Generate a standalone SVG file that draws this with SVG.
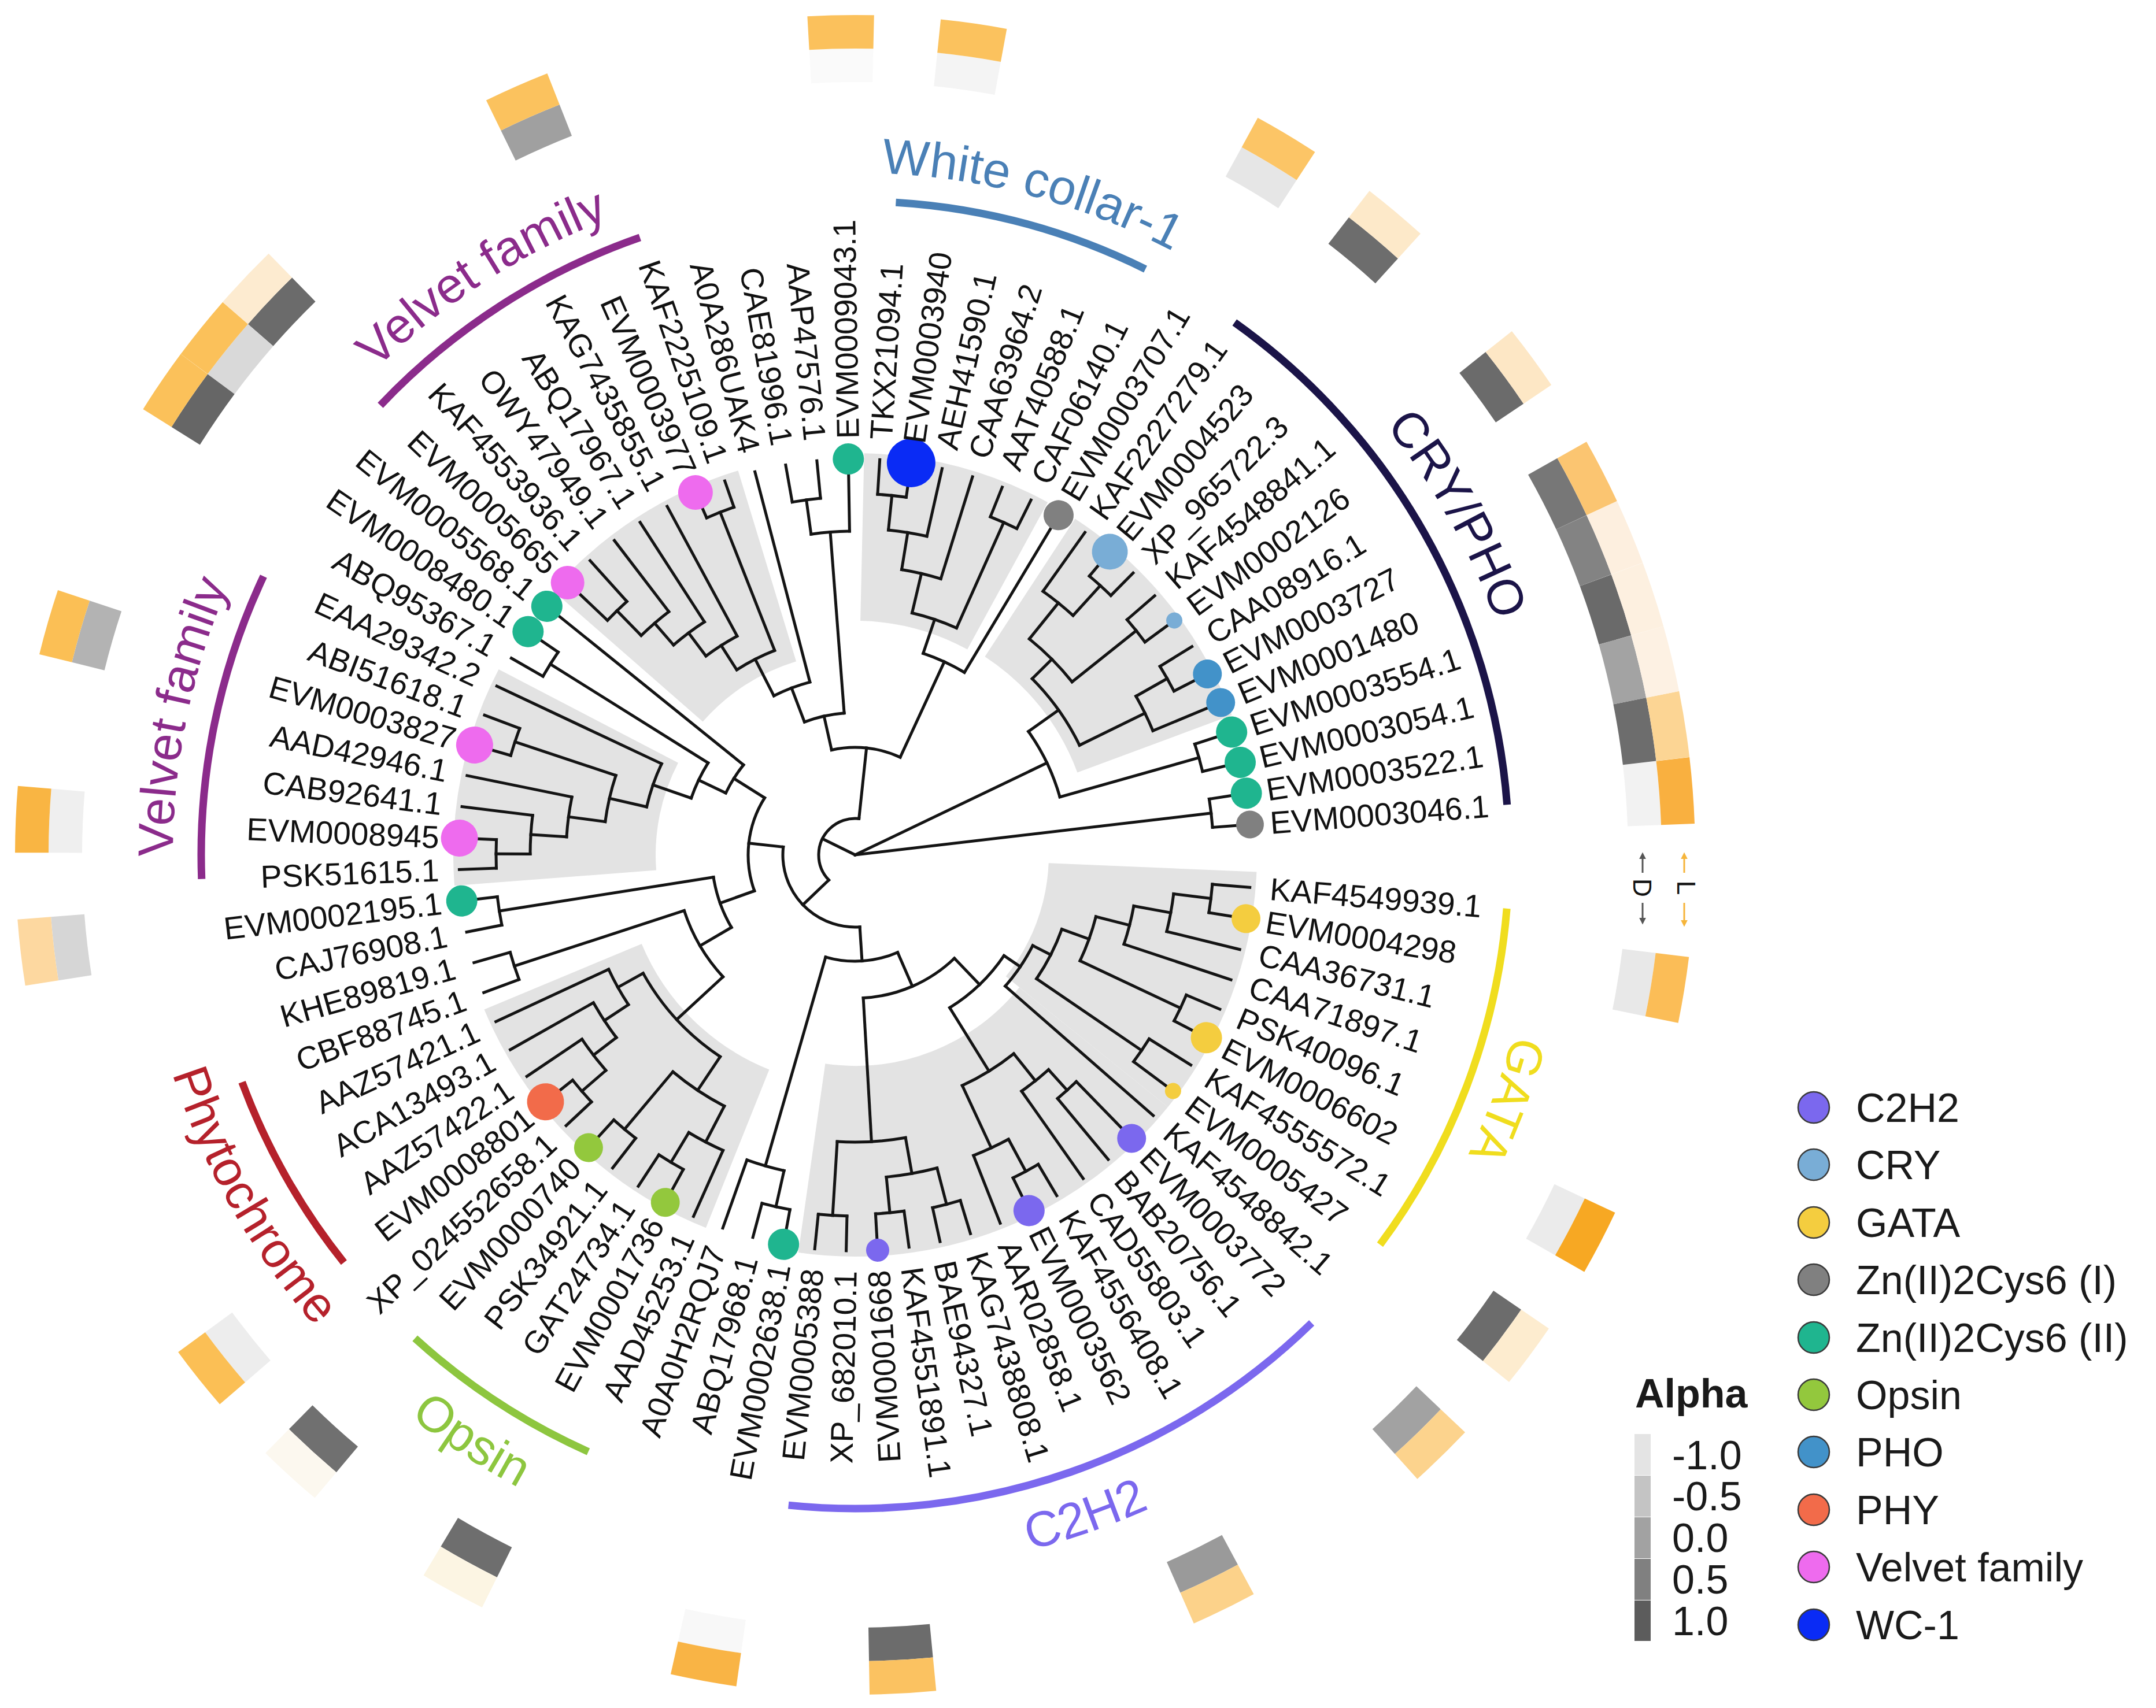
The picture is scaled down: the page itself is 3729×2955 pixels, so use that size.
<svg xmlns="http://www.w3.org/2000/svg" width="3729" height="2955" viewBox="0 0 3729 2955">
<defs>
<path id="cw" d="M1180 0A1180 1180 0 1 1-1180 0A1180 1180 0 1 1 1180 0"/>
<path id="ccw" d="M1240 0A1240 1240 0 1 0-1240 0A1240 1240 0 1 0 1240 0"/>
<path id="rd" d="M1366 0A1366 1366 0 1 1-1366 0A1366 1366 0 1 1 1366 0" pathLength="360"/>
<path id="rl" d="M1424 0A1424 1424 0 1 1-1424 0A1424 1424 0 1 1 1424 0" pathLength="360"/>
<marker id="ag" viewBox="0 0 10 10" refX="2" refY="5" markerWidth="4" markerHeight="4" orient="auto"><path d="M0 0L10 5L0 10z" fill="#555"/></marker>
<marker id="ao" viewBox="0 0 10 10" refX="2" refY="5" markerWidth="4" markerHeight="4" orient="auto"><path d="M0 0L10 5L0 10z" fill="#f6b53a"/></marker>
</defs>
<style>
text{font-family:"Liberation Sans",Arial,Helvetica,sans-serif}
.t line,.t path{stroke:#141414;stroke-width:5;fill:none;stroke-linecap:square}
.lab text{font-size:55px;fill:#111}
.lab .f{text-anchor:end}
.hl path{fill:none;stroke:#e3e3e3}
.hm{fill:none;stroke-width:58;stroke-dasharray:4.557 720}
.grp path{fill:none;stroke-width:13}
.zi{fill:#808080}.zii{fill:#1fb58f}.pho{fill:#4292c9}.cry{fill:#79add6}.wc{fill:#0a2bf5}.vel{fill:#ee6bee}.phy{fill:#f26b4a}.ops{fill:#93c83d}.c2{fill:#7b68ee}.ga{fill:#f4cd3f}
.leg circle{stroke:#3a3a3a;stroke-width:2.5}
.leg text{font-size:70px;fill:#1a1a1a}
</style>
<rect width="3729" height="2955" fill="#fff"/>
<g transform="translate(1479 1479)">
<g id="highlights" class="hl">
<path d="M552.5 0A552.5 552.5 0 1 1-552.5 0A552.5 552.5 0 1 1 552.5 0" pathLength="360" stroke-width="285" stroke-dasharray="36.46 720" transform="rotate(-56.81)"/>
<path d="M550 0A550 550 0 1 1-550 0A550 550 0 1 1 550 0" pathLength="360" stroke-width="290" stroke-dasharray="27.35 720" transform="rotate(-88.71)"/>
<path d="M522.5 0A522.5 522.5 0 1 1-522.5 0A522.5 522.5 0 1 1 522.5 0" pathLength="360" stroke-width="345" stroke-dasharray="31.9 720" transform="rotate(-138.83)"/>
<path d="M520 0A520 520 0 1 1-520 0A520 520 0 1 1 520 0" pathLength="360" stroke-width="350" stroke-dasharray="31.9 720" transform="rotate(-184.4)"/>
<path d="M547.5 0A547.5 547.5 0 1 1-547.5 0A547.5 547.5 0 1 1 547.5 0" pathLength="360" stroke-width="295" stroke-dasharray="45.57 720" transform="rotate(-248.2)"/>
<path d="M530 0A530 530 0 1 1-530 0A530 530 0 1 1 530 0" pathLength="360" stroke-width="330" stroke-dasharray="59.24 720" transform="rotate(-321.11)"/>
<path d="M515 0A515 515 0 1 1-515 0A515 515 0 1 1 515 0" pathLength="360" stroke-width="360" stroke-dasharray="36.46 720" transform="rotate(-357.57)"/>
</g>
<g id="heatmap" class="hm">
<g transform="rotate(-6.68)"><use href="#rd" stroke="#f2f2f2"/><use href="#rl" stroke="#f9b040"/></g>
<g transform="rotate(-11.24)"><use href="#rd" stroke="#6d6d6d"/><use href="#rl" stroke="#fcd594"/></g>
<g transform="rotate(-15.79)"><use href="#rd" stroke="#a3a3a3"/><use href="#rl" stroke="#fdf1e3"/></g>
<g transform="rotate(-20.35)"><use href="#rd" stroke="#6a6a6a"/><use href="#rl" stroke="#fdf0e0"/></g>
<g transform="rotate(-24.91)"><use href="#rd" stroke="#838383"/><use href="#rl" stroke="#fdefdf"/></g>
<g transform="rotate(-29.47)"><use href="#rd" stroke="#777777"/><use href="#rl" stroke="#fbc571"/></g>
<g transform="rotate(-38.58)"><use href="#rd" stroke="#6b6b6b"/><use href="#rl" stroke="#fde7c5"/></g>
<g transform="rotate(-52.25)"><use href="#rd" stroke="#6d6d6d"/><use href="#rl" stroke="#fde9c9"/></g>
<g transform="rotate(-61.36)"><use href="#rd" stroke="#e6e6e6"/><use href="#rl" stroke="#fcc566"/></g>
<g transform="rotate(-84.15)"><use href="#rd" stroke="#f4f4f4"/><use href="#rl" stroke="#fbc25e"/></g>
<g transform="rotate(-93.26)"><use href="#rd" stroke="#fafafa"/><use href="#rl" stroke="#fbc15c"/></g>
<g transform="rotate(-116.05)"><use href="#rd" stroke="#a0a0a0"/><use href="#rl" stroke="#fbc25e"/></g>
<g transform="rotate(-138.83)"><use href="#rd" stroke="#6b6b6b"/><use href="#rl" stroke="#fdebd0"/></g>
<g transform="rotate(-143.39)"><use href="#rd" stroke="#d9d9d9"/><use href="#rl" stroke="#fbc15a"/></g>
<g transform="rotate(-147.95)"><use href="#rd" stroke="#666666"/><use href="#rl" stroke="#fbc15a"/></g>
<g transform="rotate(-166.18)"><use href="#rd" stroke="#b3b3b3"/><use href="#rl" stroke="#fbbf55"/></g>
<g transform="rotate(-179.85)"><use href="#rd" stroke="#efefef"/><use href="#rl" stroke="#f9b543"/></g>
<g transform="rotate(-188.96)"><use href="#rd" stroke="#d6d6d6"/><use href="#rl" stroke="#fdd8a0"/></g>
<g transform="rotate(-220.86)"><use href="#rd" stroke="#ededed"/><use href="#rl" stroke="#fbbf55"/></g>
<g transform="rotate(-229.97)"><use href="#rd" stroke="#707070"/><use href="#rl" stroke="#fcf8ef"/></g>
<g transform="rotate(-243.64)"><use href="#rd" stroke="#6e6e6e"/><use href="#rl" stroke="#fcf5e3"/></g>
<g transform="rotate(-261.87)"><use href="#rd" stroke="#f8f8f8"/><use href="#rl" stroke="#f9b445"/></g>
<g transform="rotate(-275.54)"><use href="#rd" stroke="#6c6c6c"/><use href="#rl" stroke="#fbc261"/></g>
<g transform="rotate(-298.33)"><use href="#rd" stroke="#9a9a9a"/><use href="#rl" stroke="#fcd28a"/></g>
<g transform="rotate(-316.56)"><use href="#rd" stroke="#a2a2a2"/><use href="#rl" stroke="#fcd38d"/></g>
<g transform="rotate(-325.67)"><use href="#rd" stroke="#6c6c6c"/><use href="#rl" stroke="#fdeccf"/></g>
<g transform="rotate(-334.78)"><use href="#rd" stroke="#ebebeb"/><use href="#rl" stroke="#f7a823"/></g>
<g transform="rotate(-353.01)"><use href="#rd" stroke="#e8e8e8"/><use href="#rl" stroke="#fbbd57"/></g>
</g>
<g id="clade-strips" class="grp">
<path d="M1131 0A1131 1131 0 1 1-1131 0A1131 1131 0 1 1 1131 0" pathLength="360" stroke="#1b1448" stroke-dasharray="50.13 720" transform="rotate(-54.53)"/>
<path d="M1131 0A1131 1131 0 1 1-1131 0A1131 1131 0 1 1 1131 0" pathLength="360" stroke="#4a80b6" stroke-dasharray="22.79 720" transform="rotate(-86.43)"/>
<path d="M1131 0A1131 1131 0 1 1-1131 0A1131 1131 0 1 1 1131 0" pathLength="360" stroke="#8b2b8b" stroke-dasharray="27.34 720" transform="rotate(-136.55)"/>
<path d="M1131 0A1131 1131 0 1 1-1131 0A1131 1131 0 1 1 1131 0" pathLength="360" stroke="#8b2b8b" stroke-dasharray="27.34 720" transform="rotate(-182.12)"/>
<path d="M1131 0A1131 1131 0 1 1-1131 0A1131 1131 0 1 1 1131 0" pathLength="360" stroke="#b5212b" stroke-dasharray="18.23 720" transform="rotate(-218.58)"/>
<path d="M1131 0A1131 1131 0 1 1-1131 0A1131 1131 0 1 1 1131 0" pathLength="360" stroke="#8dc63f" stroke-dasharray="18.23 720" transform="rotate(-245.92)"/>
<path d="M1131 0A1131 1131 0 1 1-1131 0A1131 1131 0 1 1 1131 0" pathLength="360" stroke="#7b68ee" stroke-dasharray="50.13 720" transform="rotate(-314.28)"/>
<path d="M1131 0A1131 1131 0 1 1-1131 0A1131 1131 0 1 1 1131 0" pathLength="360" stroke="#f0dd1e" stroke-dasharray="31.9 720" transform="rotate(-355.29)"/>
</g>
<g id="clade-labels" font-size="86" text-anchor="middle">
<text fill="#4a80b6"><textPath href="#cw" startOffset="79.16%">White collar-1</textPath></text>
<text fill="#1b1448"><textPath href="#cw" startOffset="91.81%">CRY/PHO</textPath></text>
<text fill="#f0dd1e"><textPath href="#cw" startOffset="5.74%">GATA</textPath></text>
<text fill="#8b2b8b"><textPath href="#cw" startOffset="53.21%">Velvet family</textPath></text>
<text fill="#8b2b8b"><textPath href="#cw" startOffset="65.87%">Velvet family</textPath></text>
<text fill="#7b68ee"><textPath href="#ccw" startOffset="80.33%">C2H2</textPath></text>
<text fill="#8dc63f"><textPath href="#ccw" startOffset="65.78%">Opsin</textPath></text>
<text fill="#b5212b"><textPath href="#ccw" startOffset="58.19%">Phytochrome</textPath></text>
</g>
<g id="connectors" class="t">
<line x2="620" transform="rotate(-6.68)"/>
<line x2="368" transform="rotate(-25.62)"/>
<line x2="63" transform="rotate(-153.83)"/>
<line x1="620" x2="685" transform="rotate(-4.4)"/>
<line x1="620" x2="685" transform="rotate(-8.96)"/>
<line x1="368" x2="618" transform="rotate(-15.79)"/>
<line x1="368" x2="432" transform="rotate(-35.45)"/>
<line x1="618" x2="685" transform="rotate(-13.51)"/>
<line x1="618" x2="685" transform="rotate(-18.07)"/>
<line x1="432" x2="558" transform="rotate(-26.05)"/>
<line x1="432" x2="480" transform="rotate(-44.85)"/>
<line x1="558" x2="685" transform="rotate(-22.63)"/>
<line x1="558" x2="620" transform="rotate(-29.47)"/>
<line x1="620" x2="685" transform="rotate(-27.19)"/>
<line x1="620" x2="685" transform="rotate(-31.74)"/>
<line x1="480" x2="622" transform="rotate(-38.58)"/>
<line x1="480" x2="560" transform="rotate(-51.11)"/>
<line x1="622" x2="685" transform="rotate(-36.3)"/>
<line x1="622" x2="685" transform="rotate(-40.86)"/>
<line x1="560" x2="630" transform="rotate(-47.69)"/>
<line x1="560" x2="685" transform="rotate(-54.53)"/>
<line x1="630" x2="685" transform="rotate(-45.41)"/>
<line x1="630" x2="685" transform="rotate(-49.97)"/>
<line x1="63" x2="186" transform="rotate(-83.92)"/>
<line x1="63" x2="125" transform="rotate(-223.73)"/>
<line x1="186" x2="368" transform="rotate(-65.21)"/>
<line x1="186" x2="246" transform="rotate(-102.63)"/>
<line x1="368" x2="685" transform="rotate(-59.08)"/>
<line x1="368" x2="430" transform="rotate(-71.34)"/>
<line x1="430" x2="630" transform="rotate(-65.92)"/>
<line x1="430" x2="500" transform="rotate(-76.75)"/>
<line x1="630" x2="685" transform="rotate(-63.64)"/>
<line x1="630" x2="685" transform="rotate(-68.2)"/>
<line x1="500" x2="685" transform="rotate(-72.76)"/>
<line x1="500" x2="565" transform="rotate(-80.73)"/>
<line x1="565" x2="685" transform="rotate(-77.31)"/>
<line x1="565" x2="625" transform="rotate(-84.15)"/>
<line x1="625" x2="685" transform="rotate(-81.87)"/>
<line x1="625" x2="685" transform="rotate(-86.43)"/>
<line x1="246" x2="560" transform="rotate(-94.4)"/>
<line x1="246" x2="309" transform="rotate(-110.85)"/>
<line x1="560" x2="685" transform="rotate(-90.98)"/>
<line x1="560" x2="620" transform="rotate(-97.82)"/>
<line x1="620" x2="685" transform="rotate(-95.54)"/>
<line x1="620" x2="685" transform="rotate(-100.1)"/>
<line x1="309" x2="685" transform="rotate(-104.65)"/>
<line x1="309" x2="380" transform="rotate(-117.05)"/>
<line x1="380" x2="637" transform="rotate(-111.49)"/>
<line x1="380" x2="430" transform="rotate(-122.6)"/>
<line x1="637" x2="685" transform="rotate(-109.21)"/>
<line x1="637" x2="685" transform="rotate(-113.77)"/>
<line x1="430" x2="685" transform="rotate(-118.33)"/>
<line x1="430" x2="480" transform="rotate(-126.87)"/>
<line x1="480" x2="685" transform="rotate(-122.88)"/>
<line x1="480" x2="530" transform="rotate(-130.86)"/>
<line x1="530" x2="685" transform="rotate(-127.44)"/>
<line x1="530" x2="590" transform="rotate(-134.28)"/>
<line x1="590" x2="685" transform="rotate(-132)"/>
<line x1="590" x2="685" transform="rotate(-136.55)"/>
<line x1="125" x2="185" transform="rotate(-173.73)"/>
<line x1="125" x2="184" transform="rotate(-273.73)"/>
<line x1="185" x2="248" transform="rotate(-147.77)"/>
<line x1="185" x2="248" transform="rotate(-199.68)"/>
<line x1="248" x2="685" transform="rotate(-141.11)"/>
<line x1="248" x2="300" transform="rotate(-154.43)"/>
<line x1="300" x2="622" transform="rotate(-147.95)"/>
<line x1="300" x2="370" transform="rotate(-160.91)"/>
<line x1="622" x2="685" transform="rotate(-145.67)"/>
<line x1="622" x2="685" transform="rotate(-150.22)"/>
<line x1="370" x2="685" transform="rotate(-154.78)"/>
<line x1="370" x2="436" transform="rotate(-167.03)"/>
<line x1="436" x2="620" transform="rotate(-161.62)"/>
<line x1="436" x2="500" transform="rotate(-172.44)"/>
<line x1="620" x2="685" transform="rotate(-159.34)"/>
<line x1="620" x2="685" transform="rotate(-163.9)"/>
<line x1="500" x2="685" transform="rotate(-168.45)"/>
<line x1="500" x2="562" transform="rotate(-176.43)"/>
<line x1="562" x2="685" transform="rotate(-173.01)"/>
<line x1="562" x2="621" transform="rotate(-179.85)"/>
<line x1="621" x2="685" transform="rotate(-177.57)"/>
<line x1="621" x2="685" transform="rotate(-182.12)"/>
<line x1="248" x2="623" transform="rotate(-188.96)"/>
<line x1="248" x2="311" transform="rotate(-210.4)"/>
<line x1="623" x2="685" transform="rotate(-186.68)"/>
<line x1="623" x2="685" transform="rotate(-191.24)"/>
<line x1="311" x2="620" transform="rotate(-198.07)"/>
<line x1="311" x2="420" transform="rotate(-222.72)"/>
<line x1="620" x2="685" transform="rotate(-195.79)"/>
<line x1="620" x2="685" transform="rotate(-200.35)"/>
<line x1="420" x2="470" transform="rotate(-209.19)"/>
<line x1="420" x2="490" transform="rotate(-236.24)"/>
<line x1="470" x2="685" transform="rotate(-204.91)"/>
<line x1="470" x2="520" transform="rotate(-213.46)"/>
<line x1="520" x2="685" transform="rotate(-209.47)"/>
<line x1="520" x2="570" transform="rotate(-217.44)"/>
<line x1="570" x2="685" transform="rotate(-214.02)"/>
<line x1="570" x2="625" transform="rotate(-220.86)"/>
<line x1="625" x2="685" transform="rotate(-218.58)"/>
<line x1="625" x2="685" transform="rotate(-223.14)"/>
<line x1="490" x2="620" transform="rotate(-229.97)"/>
<line x1="490" x2="560" transform="rotate(-242.51)"/>
<line x1="620" x2="685" transform="rotate(-227.69)"/>
<line x1="620" x2="685" transform="rotate(-232.25)"/>
<line x1="560" x2="620" transform="rotate(-239.09)"/>
<line x1="560" x2="685" transform="rotate(-245.92)"/>
<line x1="620" x2="685" transform="rotate(-236.81)"/>
<line x1="620" x2="685" transform="rotate(-241.36)"/>
<line x1="184" x2="560" transform="rotate(-253.9)"/>
<line x1="184" x2="248" transform="rotate(-293.55)"/>
<line x1="560" x2="685" transform="rotate(-250.48)"/>
<line x1="560" x2="624" transform="rotate(-257.32)"/>
<line x1="624" x2="685" transform="rotate(-255.04)"/>
<line x1="624" x2="685" transform="rotate(-259.59)"/>
<line x1="248" x2="497" transform="rotate(-273.27)"/>
<line x1="248" x2="311" transform="rotate(-313.82)"/>
<line x1="497" x2="625" transform="rotate(-266.43)"/>
<line x1="497" x2="560" transform="rotate(-280.1)"/>
<line x1="625" x2="685" transform="rotate(-264.15)"/>
<line x1="625" x2="685" transform="rotate(-268.71)"/>
<line x1="560" x2="622" transform="rotate(-275.54)"/>
<line x1="560" x2="625" transform="rotate(-284.66)"/>
<line x1="622" x2="685" transform="rotate(-273.26)"/>
<line x1="622" x2="685" transform="rotate(-277.82)"/>
<line x1="625" x2="685" transform="rotate(-282.38)"/>
<line x1="625" x2="685" transform="rotate(-286.93)"/>
<line x1="311" x2="440" transform="rotate(-301.75)"/>
<line x1="311" x2="345" transform="rotate(-325.89)"/>
<line x1="440" x2="559" transform="rotate(-294.91)"/>
<line x1="440" x2="500" transform="rotate(-308.58)"/>
<line x1="559" x2="685" transform="rotate(-291.49)"/>
<line x1="559" x2="622" transform="rotate(-298.33)"/>
<line x1="622" x2="685" transform="rotate(-296.05)"/>
<line x1="622" x2="685" transform="rotate(-300.61)"/>
<line x1="500" x2="685" transform="rotate(-305.16)"/>
<line x1="500" x2="548" transform="rotate(-312)"/>
<line x1="548" x2="685" transform="rotate(-309.72)"/>
<line x1="548" x2="685" transform="rotate(-314.28)"/>
<line x1="345" x2="685" transform="rotate(-318.83)"/>
<line x1="345" x2="380" transform="rotate(-332.94)"/>
<line x1="380" x2="600" transform="rotate(-325.67)"/>
<line x1="380" x2="430" transform="rotate(-340.2)"/>
<line x1="600" x2="685" transform="rotate(-323.39)"/>
<line x1="600" x2="685" transform="rotate(-327.95)"/>
<line x1="430" x2="622" transform="rotate(-334.78)"/>
<line x1="430" x2="490" transform="rotate(-345.61)"/>
<line x1="622" x2="685" transform="rotate(-332.5)"/>
<line x1="622" x2="685" transform="rotate(-337.06)"/>
<line x1="490" x2="685" transform="rotate(-341.62)"/>
<line x1="490" x2="555" transform="rotate(-349.6)"/>
<line x1="555" x2="685" transform="rotate(-346.18)"/>
<line x1="555" x2="620" transform="rotate(-353.01)"/>
<line x1="620" x2="685" transform="rotate(-350.73)"/>
<line x1="620" x2="685" transform="rotate(-355.29)"/>
<path d="M620 0A620 620 0 1 1-620 0A620 620 0 1 1 620 0" pathLength="360" stroke-dasharray="4.56 720" transform="rotate(-8.96)"/>
<path d="M618 0A618 618 0 1 1-618 0A618 618 0 1 1 618 0" pathLength="360" stroke-dasharray="4.56 720" transform="rotate(-18.07)"/>
<path d="M620 0A620 620 0 1 1-620 0A620 620 0 1 1 620 0" pathLength="360" stroke-dasharray="4.55 720" transform="rotate(-31.74)"/>
<path d="M558 0A558 558 0 1 1-558 0A558 558 0 1 1 558 0" pathLength="360" stroke-dasharray="6.84 720" transform="rotate(-29.47)"/>
<path d="M622 0A622 622 0 1 1-622 0A622 622 0 1 1 622 0" pathLength="360" stroke-dasharray="4.56 720" transform="rotate(-40.86)"/>
<path d="M630 0A630 630 0 1 1-630 0A630 630 0 1 1 630 0" pathLength="360" stroke-dasharray="4.56 720" transform="rotate(-49.97)"/>
<path d="M560 0A560 560 0 1 1-560 0A560 560 0 1 1 560 0" pathLength="360" stroke-dasharray="6.84 720" transform="rotate(-54.53)"/>
<path d="M480 0A480 480 0 1 1-480 0A480 480 0 1 1 480 0" pathLength="360" stroke-dasharray="12.53 720" transform="rotate(-51.11)"/>
<path d="M432 0A432 432 0 1 1-432 0A432 432 0 1 1 432 0" pathLength="360" stroke-dasharray="18.8 720" transform="rotate(-44.85)"/>
<path d="M368 0A368 368 0 1 1-368 0A368 368 0 1 1 368 0" pathLength="360" stroke-dasharray="19.66 720" transform="rotate(-35.45)"/>
<path d="M63 0A63 63 0 1 1-63 0A63 63 0 1 1 63 0" pathLength="360" stroke-dasharray="139.81 720" transform="rotate(-223.73)"/>
<path d="M186 0A186 186 0 1 1-186 0A186 186 0 1 1 186 0" pathLength="360" stroke-dasharray="37.42 720" transform="rotate(-102.63)"/>
<path d="M368 0A368 368 0 1 1-368 0A368 368 0 1 1 368 0" pathLength="360" stroke-dasharray="12.26 720" transform="rotate(-71.34)"/>
<path d="M430 0A430 430 0 1 1-430 0A430 430 0 1 1 430 0" pathLength="360" stroke-dasharray="10.83 720" transform="rotate(-76.75)"/>
<path d="M630 0A630 630 0 1 1-630 0A630 630 0 1 1 630 0" pathLength="360" stroke-dasharray="4.56 720" transform="rotate(-68.2)"/>
<path d="M500 0A500 500 0 1 1-500 0A500 500 0 1 1 500 0" pathLength="360" stroke-dasharray="7.97 720" transform="rotate(-80.73)"/>
<path d="M565 0A565 565 0 1 1-565 0A565 565 0 1 1 565 0" pathLength="360" stroke-dasharray="6.84 720" transform="rotate(-84.15)"/>
<path d="M625 0A625 625 0 1 1-625 0A625 625 0 1 1 625 0" pathLength="360" stroke-dasharray="4.56 720" transform="rotate(-86.43)"/>
<path d="M246 0A246 246 0 1 1-246 0A246 246 0 1 1 246 0" pathLength="360" stroke-dasharray="16.45 720" transform="rotate(-110.85)"/>
<path d="M560 0A560 560 0 1 1-560 0A560 560 0 1 1 560 0" pathLength="360" stroke-dasharray="6.84 720" transform="rotate(-97.82)"/>
<path d="M620 0A620 620 0 1 1-620 0A620 620 0 1 1 620 0" pathLength="360" stroke-dasharray="4.56 720" transform="rotate(-100.1)"/>
<path d="M309 0A309 309 0 1 1-309 0A309 309 0 1 1 309 0" pathLength="360" stroke-dasharray="12.4 720" transform="rotate(-117.05)"/>
<path d="M380 0A380 380 0 1 1-380 0A380 380 0 1 1 380 0" pathLength="360" stroke-dasharray="11.11 720" transform="rotate(-122.6)"/>
<path d="M637 0A637 637 0 1 1-637 0A637 637 0 1 1 637 0" pathLength="360" stroke-dasharray="4.56 720" transform="rotate(-113.77)"/>
<path d="M430 0A430 430 0 1 1-430 0A430 430 0 1 1 430 0" pathLength="360" stroke-dasharray="8.54 720" transform="rotate(-126.87)"/>
<path d="M480 0A480 480 0 1 1-480 0A480 480 0 1 1 480 0" pathLength="360" stroke-dasharray="7.98 720" transform="rotate(-130.86)"/>
<path d="M530 0A530 530 0 1 1-530 0A530 530 0 1 1 530 0" pathLength="360" stroke-dasharray="6.84 720" transform="rotate(-134.28)"/>
<path d="M590 0A590 590 0 1 1-590 0A590 590 0 1 1 590 0" pathLength="360" stroke-dasharray="4.55 720" transform="rotate(-136.55)"/>
<path d="M125 0A125 125 0 1 1-125 0A125 125 0 1 1 125 0" pathLength="360" stroke-dasharray="100 720" transform="rotate(-273.73)"/>
<path d="M185 0A185 185 0 1 1-185 0A185 185 0 1 1 185 0" pathLength="360" stroke-dasharray="51.91 720" transform="rotate(-199.68)"/>
<path d="M248 0A248 248 0 1 1-248 0A248 248 0 1 1 248 0" pathLength="360" stroke-dasharray="13.32 720" transform="rotate(-154.43)"/>
<path d="M300 0A300 300 0 1 1-300 0A300 300 0 1 1 300 0" pathLength="360" stroke-dasharray="12.96 720" transform="rotate(-160.91)"/>
<path d="M622 0A622 622 0 1 1-622 0A622 622 0 1 1 622 0" pathLength="360" stroke-dasharray="4.55 720" transform="rotate(-150.22)"/>
<path d="M370 0A370 370 0 1 1-370 0A370 370 0 1 1 370 0" pathLength="360" stroke-dasharray="12.25 720" transform="rotate(-167.03)"/>
<path d="M436 0A436 436 0 1 1-436 0A436 436 0 1 1 436 0" pathLength="360" stroke-dasharray="10.82 720" transform="rotate(-172.44)"/>
<path d="M620 0A620 620 0 1 1-620 0A620 620 0 1 1 620 0" pathLength="360" stroke-dasharray="4.56 720" transform="rotate(-163.9)"/>
<path d="M500 0A500 500 0 1 1-500 0A500 500 0 1 1 500 0" pathLength="360" stroke-dasharray="7.98 720" transform="rotate(-176.43)"/>
<path d="M562 0A562 562 0 1 1-562 0A562 562 0 1 1 562 0" pathLength="360" stroke-dasharray="6.84 720" transform="rotate(-179.85)"/>
<path d="M621 0A621 621 0 1 1-621 0A621 621 0 1 1 621 0" pathLength="360" stroke-dasharray="4.55 720" transform="rotate(-182.12)"/>
<path d="M248 0A248 248 0 1 1-248 0A248 248 0 1 1 248 0" pathLength="360" stroke-dasharray="21.44 720" transform="rotate(-210.4)"/>
<path d="M623 0A623 623 0 1 1-623 0A623 623 0 1 1 623 0" pathLength="360" stroke-dasharray="4.56 720" transform="rotate(-191.24)"/>
<path d="M311 0A311 311 0 1 1-311 0A311 311 0 1 1 311 0" pathLength="360" stroke-dasharray="24.65 720" transform="rotate(-222.72)"/>
<path d="M620 0A620 620 0 1 1-620 0A620 620 0 1 1 620 0" pathLength="360" stroke-dasharray="4.56 720" transform="rotate(-200.35)"/>
<path d="M420 0A420 420 0 1 1-420 0A420 420 0 1 1 420 0" pathLength="360" stroke-dasharray="27.05 720" transform="rotate(-236.24)"/>
<path d="M470 0A470 470 0 1 1-470 0A470 470 0 1 1 470 0" pathLength="360" stroke-dasharray="8.55 720" transform="rotate(-213.46)"/>
<path d="M520 0A520 520 0 1 1-520 0A520 520 0 1 1 520 0" pathLength="360" stroke-dasharray="7.97 720" transform="rotate(-217.44)"/>
<path d="M570 0A570 570 0 1 1-570 0A570 570 0 1 1 570 0" pathLength="360" stroke-dasharray="6.84 720" transform="rotate(-220.86)"/>
<path d="M625 0A625 625 0 1 1-625 0A625 625 0 1 1 625 0" pathLength="360" stroke-dasharray="4.56 720" transform="rotate(-223.14)"/>
<path d="M490 0A490 490 0 1 1-490 0A490 490 0 1 1 490 0" pathLength="360" stroke-dasharray="12.54 720" transform="rotate(-242.51)"/>
<path d="M620 0A620 620 0 1 1-620 0A620 620 0 1 1 620 0" pathLength="360" stroke-dasharray="4.56 720" transform="rotate(-232.25)"/>
<path d="M560 0A560 560 0 1 1-560 0A560 560 0 1 1 560 0" pathLength="360" stroke-dasharray="6.83 720" transform="rotate(-245.92)"/>
<path d="M620 0A620 620 0 1 1-620 0A620 620 0 1 1 620 0" pathLength="360" stroke-dasharray="4.55 720" transform="rotate(-241.36)"/>
<path d="M184 0A184 184 0 1 1-184 0A184 184 0 1 1 184 0" pathLength="360" stroke-dasharray="39.65 720" transform="rotate(-293.55)"/>
<path d="M560 0A560 560 0 1 1-560 0A560 560 0 1 1 560 0" pathLength="360" stroke-dasharray="6.84 720" transform="rotate(-257.32)"/>
<path d="M624 0A624 624 0 1 1-624 0A624 624 0 1 1 624 0" pathLength="360" stroke-dasharray="4.55 720" transform="rotate(-259.59)"/>
<path d="M248 0A248 248 0 1 1-248 0A248 248 0 1 1 248 0" pathLength="360" stroke-dasharray="40.55 720" transform="rotate(-313.82)"/>
<path d="M497 0A497 497 0 1 1-497 0A497 497 0 1 1 497 0" pathLength="360" stroke-dasharray="13.67 720" transform="rotate(-280.1)"/>
<path d="M625 0A625 625 0 1 1-625 0A625 625 0 1 1 625 0" pathLength="360" stroke-dasharray="4.56 720" transform="rotate(-268.71)"/>
<path d="M560 0A560 560 0 1 1-560 0A560 560 0 1 1 560 0" pathLength="360" stroke-dasharray="9.12 720" transform="rotate(-284.66)"/>
<path d="M622 0A622 622 0 1 1-622 0A622 622 0 1 1 622 0" pathLength="360" stroke-dasharray="4.56 720" transform="rotate(-277.82)"/>
<path d="M625 0A625 625 0 1 1-625 0A625 625 0 1 1 625 0" pathLength="360" stroke-dasharray="4.55 720" transform="rotate(-286.93)"/>
<path d="M311 0A311 311 0 1 1-311 0A311 311 0 1 1 311 0" pathLength="360" stroke-dasharray="24.14 720" transform="rotate(-325.89)"/>
<path d="M440 0A440 440 0 1 1-440 0A440 440 0 1 1 440 0" pathLength="360" stroke-dasharray="13.67 720" transform="rotate(-308.58)"/>
<path d="M559 0A559 559 0 1 1-559 0A559 559 0 1 1 559 0" pathLength="360" stroke-dasharray="6.84 720" transform="rotate(-298.33)"/>
<path d="M622 0A622 622 0 1 1-622 0A622 622 0 1 1 622 0" pathLength="360" stroke-dasharray="4.56 720" transform="rotate(-300.61)"/>
<path d="M500 0A500 500 0 1 1-500 0A500 500 0 1 1 500 0" pathLength="360" stroke-dasharray="6.84 720" transform="rotate(-312)"/>
<path d="M548 0A548 548 0 1 1-548 0A548 548 0 1 1 548 0" pathLength="360" stroke-dasharray="4.56 720" transform="rotate(-314.28)"/>
<path d="M345 0A345 345 0 1 1-345 0A345 345 0 1 1 345 0" pathLength="360" stroke-dasharray="14.11 720" transform="rotate(-332.94)"/>
<path d="M380 0A380 380 0 1 1-380 0A380 380 0 1 1 380 0" pathLength="360" stroke-dasharray="14.53 720" transform="rotate(-340.2)"/>
<path d="M600 0A600 600 0 1 1-600 0A600 600 0 1 1 600 0" pathLength="360" stroke-dasharray="4.56 720" transform="rotate(-327.95)"/>
<path d="M430 0A430 430 0 1 1-430 0A430 430 0 1 1 430 0" pathLength="360" stroke-dasharray="10.83 720" transform="rotate(-345.61)"/>
<path d="M622 0A622 622 0 1 1-622 0A622 622 0 1 1 622 0" pathLength="360" stroke-dasharray="4.56 720" transform="rotate(-337.06)"/>
<path d="M490 0A490 490 0 1 1-490 0A490 490 0 1 1 490 0" pathLength="360" stroke-dasharray="7.98 720" transform="rotate(-349.6)"/>
<path d="M555 0A555 555 0 1 1-555 0A555 555 0 1 1 555 0" pathLength="360" stroke-dasharray="6.83 720" transform="rotate(-353.01)"/>
<path d="M620 0A620 620 0 1 1-620 0A620 620 0 1 1 620 0" pathLength="360" stroke-dasharray="4.56 720" transform="rotate(-355.29)"/>
</g>
<g id="tips" class="lab">
<g id="tip0" transform="rotate(-4.4)"><circle class="zi" cx="685" r="24"/><text x="720" y="19">EVM0003046.1</text></g>
<g id="tip1" transform="rotate(-8.96)"><circle class="zii" cx="685" r="27"/><text x="720" y="19">EVM0003522.1</text></g>
<g id="tip2" transform="rotate(-13.51)"><circle class="zii" cx="685" r="27"/><text x="720" y="19">EVM0003054.1</text></g>
<g id="tip3" transform="rotate(-18.07)"><circle class="zii" cx="685" r="27"/><text x="720" y="19">EVM0003554.1</text></g>
<g id="tip4" transform="rotate(-22.63)"><circle class="pho" cx="685" r="25"/><text x="720" y="19">EVM0001480</text></g>
<g id="tip5" transform="rotate(-27.19)"><circle class="pho" cx="685" r="25"/><text x="720" y="19">EVM0003727</text></g>
<g id="tip6" transform="rotate(-31.74)"><text x="720" y="19">CAA08916.1</text></g>
<g id="tip7" transform="rotate(-36.3)"><circle class="cry" cx="685" r="14"/><text x="720" y="19">EVM0002126</text></g>
<g id="tip8" transform="rotate(-40.86)"><text x="720" y="19">KAF4548841.1</text></g>
<g id="tip9" transform="rotate(-45.41)"><text x="720" y="19">XP_965722.3</text></g>
<g id="tip10" transform="rotate(-49.97)"><circle class="cry" cx="685" r="31"/><text x="720" y="19">EVM0004523</text></g>
<g id="tip11" transform="rotate(-54.53)"><text x="720" y="19">KAF2227279.1</text></g>
<g id="tip12" transform="rotate(-59.08)"><circle class="zi" cx="685" r="26"/><text x="720" y="19">EVM0003707.1</text></g>
<g id="tip13" transform="rotate(-63.64)"><text x="720" y="19">CAF06140.1</text></g>
<g id="tip14" transform="rotate(-68.2)"><text x="720" y="19">AAT40588.1</text></g>
<g id="tip15" transform="rotate(-72.76)"><text x="720" y="19">CAA63964.2</text></g>
<g id="tip16" transform="rotate(-77.31)"><text x="720" y="19">AEH41590.1</text></g>
<g id="tip17" transform="rotate(-81.87)"><circle class="wc" cx="685" r="42"/><text x="720" y="19">EVM0003940</text></g>
<g id="tip18" transform="rotate(-86.43)"><text x="720" y="19">TKX21094.1</text></g>
<g id="tip19" transform="rotate(-90.98)"><circle class="zii" cx="685" r="27"/><text x="720" y="19">EVM0009043.1</text></g>
<g id="tip20" transform="rotate(-95.54)"><text class="f" transform="rotate(180)" x="-720" y="19">AAP47576.1</text></g>
<g id="tip21" transform="rotate(-100.1)"><text class="f" transform="rotate(180)" x="-720" y="19">CAE81996.1</text></g>
<g id="tip22" transform="rotate(-104.65)"><text class="f" transform="rotate(180)" x="-720" y="19">A0A286UAK4</text></g>
<g id="tip23" transform="rotate(-109.21)"><text class="f" transform="rotate(180)" x="-720" y="19">KAF2225109.1</text></g>
<g id="tip24" transform="rotate(-113.77)"><circle class="vel" cx="685" r="30"/><text class="f" transform="rotate(180)" x="-720" y="19">EVM0003977</text></g>
<g id="tip25" transform="rotate(-118.33)"><text class="f" transform="rotate(180)" x="-720" y="19">KAG7435855.1</text></g>
<g id="tip26" transform="rotate(-122.88)"><text class="f" transform="rotate(180)" x="-720" y="19">ABQ17967.1</text></g>
<g id="tip27" transform="rotate(-127.44)"><text class="f" transform="rotate(180)" x="-720" y="19">OWY47949.1</text></g>
<g id="tip28" transform="rotate(-132)"><text class="f" transform="rotate(180)" x="-720" y="19">KAF4553936.1</text></g>
<g id="tip29" transform="rotate(-136.55)"><circle class="vel" cx="685" r="29"/><text class="f" transform="rotate(180)" x="-720" y="19">EVM0005665</text></g>
<g id="tip30" transform="rotate(-141.11)"><circle class="zii" cx="685" r="27"/><text class="f" transform="rotate(180)" x="-720" y="19">EVM0005568.1</text></g>
<g id="tip31" transform="rotate(-145.67)"><circle class="zii" cx="685" r="27"/><text class="f" transform="rotate(180)" x="-720" y="19">EVM0008480.1</text></g>
<g id="tip32" transform="rotate(-150.22)"><text class="f" transform="rotate(180)" x="-720" y="19">ABQ95367.1</text></g>
<g id="tip33" transform="rotate(-154.78)"><text class="f" transform="rotate(180)" x="-720" y="19">EAA29342.2</text></g>
<g id="tip34" transform="rotate(-159.34)"><text class="f" transform="rotate(180)" x="-720" y="19">ABI51618.1</text></g>
<g id="tip35" transform="rotate(-163.9)"><circle class="vel" cx="685" r="32"/><text class="f" transform="rotate(180)" x="-720" y="19">EVM0003827</text></g>
<g id="tip36" transform="rotate(-168.45)"><text class="f" transform="rotate(180)" x="-720" y="19">AAD42946.1</text></g>
<g id="tip37" transform="rotate(-173.01)"><text class="f" transform="rotate(180)" x="-720" y="19">CAB92641.1</text></g>
<g id="tip38" transform="rotate(-177.57)"><circle class="vel" cx="685" r="32"/><text class="f" transform="rotate(180)" x="-720" y="19">EVM0008945</text></g>
<g id="tip39" transform="rotate(-182.12)"><text class="f" transform="rotate(180)" x="-720" y="19">PSK51615.1</text></g>
<g id="tip40" transform="rotate(-186.68)"><circle class="zii" cx="685" r="27"/><text class="f" transform="rotate(180)" x="-720" y="19">EVM0002195.1</text></g>
<g id="tip41" transform="rotate(-191.24)"><text class="f" transform="rotate(180)" x="-720" y="19">CAJ76908.1</text></g>
<g id="tip42" transform="rotate(-195.79)"><text class="f" transform="rotate(180)" x="-720" y="19">KHE89819.1</text></g>
<g id="tip43" transform="rotate(-200.35)"><text class="f" transform="rotate(180)" x="-720" y="19">CBF88745.1</text></g>
<g id="tip44" transform="rotate(-204.91)"><text class="f" transform="rotate(180)" x="-720" y="19">AAZ57421.1</text></g>
<g id="tip45" transform="rotate(-209.47)"><text class="f" transform="rotate(180)" x="-720" y="19">ACA13493.1</text></g>
<g id="tip46" transform="rotate(-214.02)"><text class="f" transform="rotate(180)" x="-720" y="19">AAZ57422.1</text></g>
<g id="tip47" transform="rotate(-218.58)"><circle class="phy" cx="685" r="32"/><text class="f" transform="rotate(180)" x="-720" y="19">EVM0008801</text></g>
<g id="tip48" transform="rotate(-223.14)"><text class="f" transform="rotate(180)" x="-720" y="19">XP_024552658.1</text></g>
<g id="tip49" transform="rotate(-227.69)"><circle class="ops" cx="685" r="25"/><text class="f" transform="rotate(180)" x="-720" y="19">EVM0000740</text></g>
<g id="tip50" transform="rotate(-232.25)"><text class="f" transform="rotate(180)" x="-720" y="19">PSK34921.1</text></g>
<g id="tip51" transform="rotate(-236.81)"><text class="f" transform="rotate(180)" x="-720" y="19">GAT24734.1</text></g>
<g id="tip52" transform="rotate(-241.36)"><circle class="ops" cx="685" r="25"/><text class="f" transform="rotate(180)" x="-720" y="19">EVM0001736</text></g>
<g id="tip53" transform="rotate(-245.92)"><text class="f" transform="rotate(180)" x="-720" y="19">AAD45253.1</text></g>
<g id="tip54" transform="rotate(-250.48)"><text class="f" transform="rotate(180)" x="-720" y="19">A0A0H2RQJ7</text></g>
<g id="tip55" transform="rotate(-255.04)"><text class="f" transform="rotate(180)" x="-720" y="19">ABQ17968.1</text></g>
<g id="tip56" transform="rotate(-259.59)"><circle class="zii" cx="685" r="27"/><text class="f" transform="rotate(180)" x="-720" y="19">EVM0002638.1</text></g>
<g id="tip57" transform="rotate(-264.15)"><text class="f" transform="rotate(180)" x="-720" y="19">EVM0005388</text></g>
<g id="tip58" transform="rotate(-268.71)"><text class="f" transform="rotate(180)" x="-720" y="19">XP_682010.1</text></g>
<g id="tip59" transform="rotate(-273.26)"><circle class="c2" cx="685" r="20"/><text class="f" transform="rotate(180)" x="-720" y="19">EVM0001668</text></g>
<g id="tip60" transform="rotate(-277.82)"><text x="720" y="19">KAF4551891.1</text></g>
<g id="tip61" transform="rotate(-282.38)"><text x="720" y="19">BAE94327.1</text></g>
<g id="tip62" transform="rotate(-286.93)"><text x="720" y="19">KAG7438808.1</text></g>
<g id="tip63" transform="rotate(-291.49)"><text x="720" y="19">AAR02858.1</text></g>
<g id="tip64" transform="rotate(-296.05)"><circle class="c2" cx="685" r="27"/><text x="720" y="19">EVM0003562</text></g>
<g id="tip65" transform="rotate(-300.61)"><text x="720" y="19">KAF4556408.1</text></g>
<g id="tip66" transform="rotate(-305.16)"><text x="720" y="19">CAD55803.1</text></g>
<g id="tip67" transform="rotate(-309.72)"><text x="720" y="19">BAB20756.1</text></g>
<g id="tip68" transform="rotate(-314.28)"><circle class="c2" cx="685" r="25"/><text x="720" y="19">EVM0003772</text></g>
<g id="tip69" transform="rotate(-318.83)"><text x="720" y="19">KAF4548842.1</text></g>
<g id="tip70" transform="rotate(-323.39)"><circle class="ga" cx="685" r="14"/><text x="720" y="19">EVM0005427</text></g>
<g id="tip71" transform="rotate(-327.95)"><text x="720" y="19">KAF4555572.1</text></g>
<g id="tip72" transform="rotate(-332.5)"><circle class="ga" cx="685" r="27"/><text x="720" y="19">EVM0006602</text></g>
<g id="tip73" transform="rotate(-337.06)"><text x="720" y="19">PSK40096.1</text></g>
<g id="tip74" transform="rotate(-341.62)"><text x="720" y="19">CAA71897.1</text></g>
<g id="tip75" transform="rotate(-346.18)"><text x="720" y="19">CAA36731.1</text></g>
<g id="tip76" transform="rotate(-350.73)"><circle class="ga" cx="685" r="25"/><text x="720" y="19">EVM0004298</text></g>
<g id="tip77" transform="rotate(-355.29)"><text x="720" y="19">KAF4549939.1</text></g>
</g>
</g>
<g id="dl-key" font-size="44" fill="#111">
<line x1="2841" y1="1510" x2="2841" y2="1484" stroke="#555" stroke-width="3" marker-end="url(#ag)"/>
<line x1="2841" y1="1562" x2="2841" y2="1590" stroke="#555" stroke-width="3" marker-end="url(#ag)"/>
<text transform="translate(2841 1536) rotate(90)" text-anchor="middle" dy="0.36em">D</text>
<line x1="2913" y1="1510" x2="2913" y2="1484" stroke="#f6b53a" stroke-width="3" marker-end="url(#ao)"/>
<line x1="2913" y1="1562" x2="2913" y2="1594" stroke="#f6b53a" stroke-width="3" marker-end="url(#ao)"/>
<text transform="translate(2917 1536) rotate(90)" text-anchor="middle" dy="0.36em">L</text>
</g>
<g id="legend-alpha" class="leg">
<text x="2828" y="2435" font-weight="bold" font-size="72">Alpha</text>
<rect x="2827" y="2481" width="28" height="71" fill="#e4e4e4"/>
<rect x="2827" y="2553" width="28" height="71" fill="#c4c4c4"/>
<rect x="2827" y="2625" width="28" height="71" fill="#a2a2a2"/>
<rect x="2827" y="2697" width="28" height="71" fill="#808080"/>
<rect x="2827" y="2769" width="28" height="70" fill="#5c5c5c"/>
<text x="2892" y="2542">-1.0</text>
<text x="2892" y="2613">-0.5</text>
<text x="2892" y="2685">0.0</text>
<text x="2892" y="2757">0.5</text>
<text x="2892" y="2829">1.0</text>
</g>
<g id="legend-family" class="leg">
<circle cx="3137" cy="1916" r="27" class="c2"/><text x="3210" y="1941">C2H2</text>
<circle cx="3137" cy="2015" r="27" class="cry"/><text x="3210" y="2040">CRY</text>
<circle cx="3137" cy="2115" r="27" class="ga"/><text x="3210" y="2140">GATA</text>
<circle cx="3137" cy="2214" r="27" class="zi"/><text x="3210" y="2239">Zn(II)2Cys6 (I)</text>
<circle cx="3137" cy="2314" r="27" class="zii"/><text x="3210" y="2339">Zn(II)2Cys6 (II)</text>
<circle cx="3137" cy="2413" r="27" class="ops"/><text x="3210" y="2438">Opsin</text>
<circle cx="3137" cy="2512" r="27" class="pho"/><text x="3210" y="2537">PHO</text>
<circle cx="3137" cy="2612" r="27" class="phy"/><text x="3210" y="2637">PHY</text>
<circle cx="3137" cy="2711" r="27" class="vel"/><text x="3210" y="2736">Velvet family</text>
<circle cx="3137" cy="2811" r="27" class="wc"/><text x="3210" y="2836">WC-1</text>
</g>
</svg>
